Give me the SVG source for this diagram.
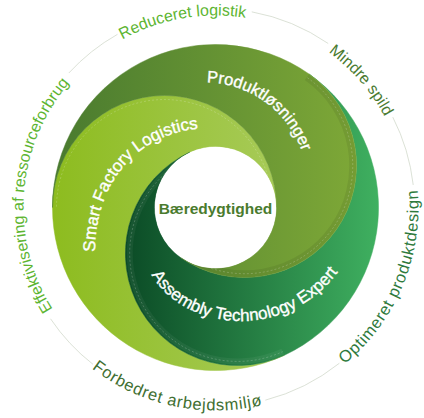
<svg xmlns="http://www.w3.org/2000/svg" width="424" height="418" viewBox="0 0 424 418">
<defs>
<style>
.lbl{font-family:"Liberation Sans",Arial,sans-serif;font-size:16px;}
.lblb{font-family:"Liberation Sans",Arial,sans-serif;font-size:16.5px;letter-spacing:0.7px;}
.inner{font-family:"Liberation Sans",Arial,sans-serif;font-size:17px;fill:#ffffff;stroke:#ffffff;stroke-width:0.35px;}
.conn{fill:none;stroke:#cbd4c4;stroke-width:0.7;}
.dash{fill:none;stroke:#ffffff;stroke-opacity:0.3;stroke-width:0.7;stroke-dasharray:2 2;}
</style>
<linearGradient id="gL" gradientUnits="userSpaceOnUse" x1="52" y1="0" x2="285" y2="0"><stop offset="0" stop-color="#8dbc1f"/><stop offset="1" stop-color="#a8cb5a"/></linearGradient>
<linearGradient id="gO" gradientUnits="userSpaceOnUse" x1="60" y1="0" x2="358" y2="0"><stop offset="0" stop-color="#4a7b2f"/><stop offset="1" stop-color="#7ea837"/></linearGradient>
<linearGradient id="gA" gradientUnits="userSpaceOnUse" x1="125" y1="0" x2="378" y2="0"><stop offset="0" stop-color="#0b4b26"/><stop offset="1" stop-color="#3fb060"/></linearGradient>
<path id="pL" d="M52.5,207.5 A163,163 0 0 0 284.39,355.23 A112,112 0 0 1 189.72,152.22 A61,61 0 0 1 276.5,207.5 A112,112 0 0 0 52.5,207.5 Z"/>
<path id="pA" d="M284.39,355.23 A163,163 0 0 0 308.99,73.98 A112,112 0 0 1 180.51,257.47 A61,61 0 0 1 189.72,152.22 A112,112 0 0 0 284.39,355.23 Z"/>
<path id="pO" d="M308.99,73.98 A163,163 0 0 0 52.5,207.5 A112,112 0 0 1 276.5,207.5 A61,61 0 0 1 180.51,257.47 A112,112 0 0 0 308.99,73.98 Z"/>
<clipPath id="cL"><use href="#pL"/></clipPath>
<clipPath id="cA"><use href="#pA"/></clipPath>
<clipPath id="cO"><use href="#pO"/></clipPath>
<path id="tpEff" d="M52.67,309.24 A192,192 0 0 1 92.08,60.42"/>
<path id="tpRed" d="M122.42,39.57 A192,192 0 0 1 281.17,27.08"/>
<path id="tpMin" d="M328.36,52.17 A192,192 0 0 1 400.96,157.81"/>
<path id="tpOpt" d="M344.62,364.14 A203,203 0 0 0 411.58,154.96"/>
<path id="tpFor" d="M91.92,368.55 A203,203 0 0 0 317,383.3"/>
<path id="tpProd" d="M206.8,82.5 A102.5,102.5 0 0 1 307.1,176.07"/>
<path id="tpSmart" d="M95,252 C95,185 135,132 205,128"/>
<path id="tpAsm" d="M150,272 C180,330 290,348 345,262"/>
</defs>
<rect width="424" height="418" fill="#ffffff"/>

<g id="connectors">
<path class="conn" d="M68.78,73.06 A199,199 0 0 1 117.51,34.3"/>
<path class="conn" d="M251.77,11.83 A199,199 0 0 1 328.22,43.5"/>
<path class="conn" d="M392.81,117.16 A199,199 0 0 1 413.22,184.97"/>
<path class="conn" d="M339.38,363.24 A199,199 0 0 1 265.33,400.16"/>
<path class="conn" d="M92.98,364.31 A199,199 0 0 1 50.52,318.78"/>
</g>

<g id="smart-factory-logistics">
<use href="#pL" fill="url(#gL)" stroke="url(#gL)" stroke-width="0.5"/>
<g clip-path="url(#cL)">
<path class="dash" d="M272.5,207.5 A108,108 0 0 0 56.5,207.5"/>
</g>
<text class="inner"><textPath href="#tpSmart">Smart Factory Logistics</textPath></text>
</g>

<g id="assembly-technology-expert">
<use href="#pA" fill="url(#gA)" stroke="url(#gA)" stroke-width="0.5"/>
<g clip-path="url(#cA)">
<path d="M191.41,155.84 A108,108 0 0 0 282.69,351.6" fill="none" stroke="#ffffff" stroke-opacity="0.05" stroke-width="6"/>
<path class="dash" d="M191.41,155.84 A108,108 0 0 0 282.69,351.6"/>
</g>
<text class="inner"><textPath href="#tpAsm" startOffset="3">Assembly Technology Expert</textPath></text>
</g>

<g id="produktloesninger">
<use href="#pO" fill="url(#gO)" stroke="url(#gO)" stroke-width="0.5"/>
<g clip-path="url(#cO)">
<path d="M182.8,254.19 A108,108 0 0 0 306.7,77.25" fill="none" stroke="#000000" stroke-opacity="0.07" stroke-width="7"/>
<path class="dash" d="M182.8,254.19 A108,108 0 0 0 306.7,77.25"/>
</g>
<text class="inner" style="font-size:16.5px"><textPath href="#tpProd">Produktløsninger</textPath></text>
</g>

<g id="baeredygtighed">
<circle cx="215.5" cy="207.5" r="60.5" fill="#ffffff"/>
<text x="215.5" y="214" text-anchor="middle" font-family="Liberation Sans, Arial, sans-serif" font-weight="bold" font-size="15.5" fill="#4a7b2e">Bæredygtighed</text>
</g>

<g id="label-effektivisering"><text class="lbl" fill="#5db531"><textPath href="#tpEff">Effektivisering af ressourceforbrug</textPath></text></g>
<g id="label-reduceret"><text class="lbl" fill="#5db531"><textPath href="#tpRed">Reduceret logistik</textPath></text></g>
<g id="label-mindre"><text class="lbl" fill="#4a7b31"><textPath href="#tpMin">Mindre spild</textPath></text></g>
<g id="label-optimeret"><text class="lblb" fill="#2e7a3c"><textPath href="#tpOpt">Optimeret produktdesign</textPath></text></g>
<g id="label-forbedret"><text class="lblb" fill="#3f6f32"><textPath href="#tpFor">Forbedret arbejdsmiljø</textPath></text></g>
</svg>
